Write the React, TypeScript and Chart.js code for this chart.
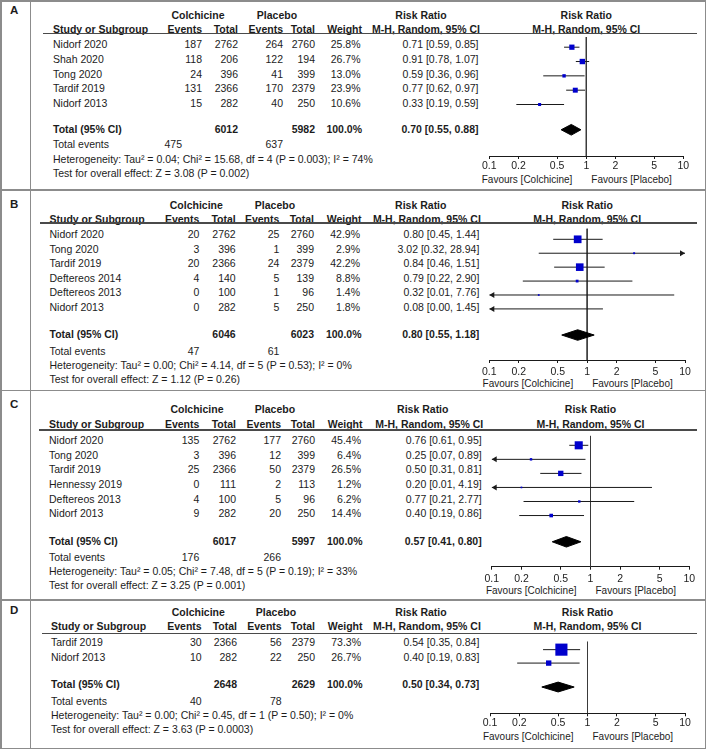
import React, { useEffect, useRef } from 'react';
import { Chart, registerables } from 'chart.js';
Chart.register(...registerables);

const FONT = '"Liberation Sans", Arial, Helvetica, sans-serif';
const TEXT = '#1c1c1c';
const LINE = '#1a1a1a';
const BLUE = '#0000cc';
const BORDER = '#8c8c8c';
const W = 708;
const H = 751;

const TICK_VALUES = [0.1, 0.2, 0.5, 1, 2, 5, 10];
const TICK_LABELS = ['0.1', '0.2', '0.5', '1', '2', '5', '10'];
const X_MIN = 0.1;
const X_MAX = 10;

// ---------- Panel A ----------
const A_STUDIES = ['Nidorf 2020', 'Shah 2020', 'Tong 2020', 'Tardif 2019', 'Nidorf 2013'];
const A_COL_EVENTS = [187, 118, 24, 131, 15];
const A_COL_TOTAL = [2762, 206, 396, 2366, 282];
const A_PLA_EVENTS = [264, 122, 41, 170, 40];
const A_PLA_TOTAL = [2760, 194, 399, 2379, 250];
const A_WEIGHT = [25.8, 26.7, 13.0, 23.9, 10.6];
const A_RR = [0.71, 0.91, 0.59, 0.77, 0.33];
const A_LOW = [0.59, 0.78, 0.36, 0.62, 0.19];
const A_HIGH = [0.85, 1.07, 0.96, 0.97, 0.59];
const A_TOTALS = [6012, 5982];
const A_TOTAL_EVENTS = [475, 637];
const A_POOLED = [0.70, 0.55, 0.88];
const A_HET = 'Heterogeneity: Tau² = 0.04; Chi² = 15.68, df = 4 (P = 0.003); I² = 74%';
const A_TEST = 'Test for overall effect: Z = 3.08 (P = 0.002)';

// ---------- Panel B ----------
const B_STUDIES = ['Nidorf 2020', 'Tong 2020', 'Tardif 2019', 'Deftereos 2014', 'Deftereos 2013', 'Nidorf 2013'];
const B_COL_EVENTS = [20, 3, 20, 4, 0, 0];
const B_COL_TOTAL = [2762, 396, 2366, 140, 100, 282];
const B_PLA_EVENTS = [25, 1, 24, 5, 1, 5];
const B_PLA_TOTAL = [2760, 399, 2379, 139, 96, 250];
const B_WEIGHT = [42.9, 2.9, 42.2, 8.8, 1.4, 1.8];
const B_RR = [0.80, 3.02, 0.84, 0.79, 0.32, 0.08];
const B_LOW = [0.45, 0.32, 0.46, 0.22, 0.01, 0.00];
const B_HIGH = [1.44, 28.94, 1.51, 2.90, 7.76, 1.45];
const B_TOTALS = [6046, 6023];
const B_TOTAL_EVENTS = [47, 61];
const B_POOLED = [0.80, 0.55, 1.18];
const B_HET = 'Heterogeneity: Tau² = 0.00; Chi² = 4.14, df = 5 (P = 0.53); I² = 0%';
const B_TEST = 'Test for overall effect: Z = 1.12 (P = 0.26)';

// ---------- Panel C ----------
const C_STUDIES = ['Nidorf 2020', 'Tong 2020', 'Tardif 2019', 'Hennessy 2019', 'Deftereos 2013', 'Nidorf 2013'];
const C_COL_EVENTS = [135, 3, 25, 0, 4, 9];
const C_COL_TOTAL = [2762, 396, 2366, 111, 100, 282];
const C_PLA_EVENTS = [177, 12, 50, 2, 5, 20];
const C_PLA_TOTAL = [2760, 399, 2379, 113, 96, 250];
const C_WEIGHT = [45.4, 6.4, 26.5, 1.2, 6.2, 14.4];
const C_RR = [0.76, 0.25, 0.50, 0.20, 0.77, 0.40];
const C_LOW = [0.61, 0.07, 0.31, 0.01, 0.21, 0.19];
const C_HIGH = [0.95, 0.89, 0.81, 4.19, 2.77, 0.86];
const C_TOTALS = [6017, 5997];
const C_TOTAL_EVENTS = [176, 266];
const C_POOLED = [0.57, 0.41, 0.80];
const C_HET = 'Heterogeneity: Tau² = 0.05; Chi² = 7.48, df = 5 (P = 0.19); I² = 33%';
const C_TEST = 'Test for overall effect: Z = 3.25 (P = 0.001)';

// ---------- Panel D ----------
const D_STUDIES = ['Tardif 2019', 'Nidorf 2013'];
const D_COL_EVENTS = [30, 10];
const D_COL_TOTAL = [2366, 282];
const D_PLA_EVENTS = [56, 22];
const D_PLA_TOTAL = [2379, 250];
const D_WEIGHT = [73.3, 26.7];
const D_RR = [0.54, 0.40];
const D_LOW = [0.35, 0.19];
const D_HIGH = [0.84, 0.83];
const D_TOTALS = [2648, 2629];
const D_TOTAL_EVENTS = [40, 78];
const D_POOLED = [0.50, 0.34, 0.73];
const D_HET = 'Heterogeneity: Tau² = 0.00; Chi² = 0.45, df = 1 (P = 0.50); I² = 0%';
const D_TEST = 'Test for overall effect: Z = 3.63 (P = 0.0003)';

type PanelData = {
  letter: string;
  studies: string[]; colEv: number[]; colTot: number[]; plaEv: number[]; plaTot: number[];
  weight: number[]; rr: number[]; low: number[]; high: number[];
  totals: number[]; totalEvents: number[]; pooled: number[]; het: string; test: string;
};

const mk = (letter: string, studies: string[], colEv: number[], colTot: number[], plaEv: number[], plaTot: number[],
  weight: number[], rr: number[], low: number[], high: number[], totals: number[], totalEvents: number[],
  pooled: number[], het: string, test: string): PanelData =>
  ({ letter, studies, colEv, colTot, plaEv, plaTot, weight, rr, low, high, totals, totalEvents, pooled, het, test });

const PANELS: PanelData[] = [
  mk('A', A_STUDIES, A_COL_EVENTS, A_COL_TOTAL, A_PLA_EVENTS, A_PLA_TOTAL, A_WEIGHT, A_RR, A_LOW, A_HIGH, A_TOTALS, A_TOTAL_EVENTS, A_POOLED, A_HET, A_TEST),
  mk('B', B_STUDIES, B_COL_EVENTS, B_COL_TOTAL, B_PLA_EVENTS, B_PLA_TOTAL, B_WEIGHT, B_RR, B_LOW, B_HIGH, B_TOTALS, B_TOTAL_EVENTS, B_POOLED, B_HET, B_TEST),
  mk('C', C_STUDIES, C_COL_EVENTS, C_COL_TOTAL, C_PLA_EVENTS, C_PLA_TOTAL, C_WEIGHT, C_RR, C_LOW, C_HIGH, C_TOTALS, C_TOTAL_EVENTS, C_POOLED, C_HET, C_TEST),
  mk('D', D_STUDIES, D_COL_EVENTS, D_COL_TOTAL, D_PLA_EVENTS, D_PLA_TOTAL, D_WEIGHT, D_RR, D_LOW, D_HIGH, D_TOTALS, D_TOTAL_EVENTS, D_POOLED, D_HET, D_TEST),
];

// ---------- Layout (pixel positions, page coordinates) ----------
type Lay = {
  label: number; colch: number; head: number; underline: number; lineStart: number;
  row0: number; step: number; total: number; totEv: number; het: number; test: number;
  axis: number; tickGap: number; fav: number; name: number; ev1: number; tot1: number; ev2: number; tot2: number;
  w: number; rr: number; rrHead: number; colchC: number; placC: number; x01: number; x10: number; totEv1: number;
};

const LAYOUTS: Lay[] = [
  { label: 10, colch: 15, head: 29, underline: 33.5, lineStart: 43, row0: 44, step: 14.75, total: 129, totEv: 144, het: 158.7, test: 173,
    axis: 156, tickGap: 9.7, fav: 180, name: 53, ev1: 202, tot1: 238, ev2: 283, tot2: 315, w: 360.5, rr: 478.5, rrHead: 421,
    colchC: 198, placC: 277, x01: 489.3, x10: 683.3, totEv1: 182 },
  { label: 204, colch: 205, head: 219, underline: 223, lineStart: 40, row0: 234.3, step: 14.5, total: 334, totEv: 350.7, het: 364.7, test: 379,
    axis: 360, tickGap: 11.7, fav: 384, name: 49.5, ev1: 199.3, tot1: 235.7, ev2: 279.3, tot2: 314, w: 360, rr: 479.3, rrHead: 420.8,
    colchC: 196.3, placC: 275, x01: 489.3, x10: 685, totEv1: 199.3 },
  { label: 404, colch: 409.3, head: 423.7, underline: 430, lineStart: 39.3, row0: 440, step: 14.66, total: 540.7, totEv: 556.7, het: 571, test: 585,
    axis: 566.7, tickGap: 12.6, fav: 591, name: 49, ev1: 199.3, tot1: 236, ev2: 281, tot2: 315, w: 361, rr: 481.7, rrHead: 422.8,
    colchC: 197, placC: 275, x01: 491.7, x10: 689.3, totEv1: 199.3 },
  { label: 610, colch: 611.7, head: 626.3, underline: 633.3, lineStart: 41.7, row0: 642.3, step: 15, total: 684, totEv: 700.7, het: 715, test: 729.3,
    axis: 713.3, tickGap: 9.5, fav: 736.7, name: 51, ev1: 201.7, tot1: 237, ev2: 281.7, tot2: 315, w: 361, rr: 479.3, rrHead: 421,
    colchC: 198.3, placC: 276, x01: 490, x10: 685, totEv1: 201.7 },
];

const PANEL_LINES = [1, 190, 390.5, 600, 748.5];
const FS = 10.5;

function T({ x, y, a = 'l', b = false, s = FS, children }: any) {
  const st: any = {
    position: 'absolute', top: y - 8, height: 16, lineHeight: '16px', fontSize: s,
    fontWeight: b ? 700 : 400, whiteSpace: 'nowrap', color: TEXT,
  };
  if (a === 'l') st.left = x;
  else if (a === 'r') st.right = W - x;
  else { st.left = x - 150; st.width = 300; st.textAlign = 'center'; }
  return <div style={st}>{children}</div>;
}

const fmtRR = (r: number, l: number, h: number) => `${r.toFixed(2)} [${l.toFixed(2)}, ${h.toFixed(2)}]`;

const AXIS_H = 24;

function Forest({ p, L }: { p: PanelData; L: Lay }) {
  const ref = useRef<HTMLCanvasElement>(null);
  const left = Math.floor(L.x01 - 48);
  const width = Math.ceil(L.x10 + 18 - left);
  const top = Math.floor(L.underline);
  const height = Math.ceil(L.axis - top + AXIS_H);

  useEffect(() => {
    const c = ref.current!;
    const padL = L.x01 - left;
    const padR = width - (L.x10 - left);
    const padT = L.underline - top;
    const padB = height - AXIS_H - (L.axis - top);
    const idx = (py: number) => (py - L.row0) / L.step;
    const yTop = idx(L.underline), yBot = idx(L.axis), yTot = idx(L.total);
    const rows = p.studies.map((_, i) => i);
    const visible = rows.filter(i => p.rr[i] >= X_MIN && p.rr[i] <= X_MAX);
    const half = 5.5 / L.step;

    const datasets: any[] = [];
    datasets.push({
      type: 'scatter',
      data: visible.map(i => ({ x: p.rr[i], y: i })),
      pointStyle: 'rect',
      pointRadius: visible.map(i => (1.5 + 0.145 * p.weight[i]) / 2 / Math.SQRT1_2),
      pointBackgroundColor: BLUE,
      pointBorderColor: BLUE,
      pointBorderWidth: 0,
      clip: false,
    });
    const [pr, pl, ph] = p.pooled;
    datasets.push({
      type: 'line',
      data: [
        { x: pl, y: yTot }, { x: pr, y: yTot - half }, { x: ph, y: yTot }, { x: pr, y: yTot + half }, { x: pl, y: yTot },
      ],
      borderColor: '#000', backgroundColor: '#000', borderWidth: 1, pointRadius: 0, fill: 'shape', tension: 0,
    });
    rows.forEach(i => {
      datasets.push({
        type: 'line',
        data: [{ x: Math.max(p.low[i], X_MIN), y: i }, { x: Math.min(p.high[i], X_MAX), y: i }],
        borderColor: LINE, borderWidth: 1, pointRadius: 0, fill: false,
      });
    });
    datasets.push({
      type: 'line',
      data: [{ x: 1, y: yTop }, { x: 1, y: yBot }],
      borderColor: '#3a3a3a', borderWidth: 1, pointRadius: 0, fill: false,
    });

    const arrows: { v: number; y: number; dir: number }[] = [];
    rows.forEach(i => {
      if (p.low[i] < X_MIN) arrows.push({ v: X_MIN, y: i, dir: -1 });
      if (p.high[i] > X_MAX) arrows.push({ v: X_MAX, y: i, dir: 1 });
    });
    const arrowPlugin = {
      id: 'ciArrows',
      afterDatasetsDraw(chart: any) {
        const { ctx } = chart;
        const xs = chart.scales.x, ys = chart.scales.y;
        ctx.save();
        ctx.fillStyle = LINE;
        arrows.forEach(a => {
          const px = xs.getPixelForValue(a.v), py = ys.getPixelForValue(a.y);
          ctx.beginPath();
          ctx.moveTo(px, py);
          ctx.lineTo(px - a.dir * 5, py - 3);
          ctx.lineTo(px - a.dir * 5, py + 3);
          ctx.closePath();
          ctx.fill();
        });
        ctx.restore();
      },
    };

    const chart = new Chart(c, {
      type: 'scatter',
      data: { datasets },
      plugins: [arrowPlugin],
      options: {
        responsive: false,
        maintainAspectRatio: false,
        animation: false,
        devicePixelRatio: 1,
        events: [],
        layout: { padding: { left: padL, right: padR, top: padT, bottom: padB } },
        plugins: { legend: { display: false }, tooltip: { enabled: false } },
        scales: {
          x: {
            type: 'logarithmic', min: X_MIN, max: X_MAX, position: 'bottom',
            afterBuildTicks: (s: any) => { s.ticks = TICK_VALUES.map(v => ({ value: v })); },
            afterFit: (s: any) => { s.height = AXIS_H; },
            ticks: {
              autoSkip: false, maxRotation: 0, minRotation: 0, padding: L.tickGap - 3 - 6.3,
              color: TEXT, font: { family: FONT, size: FS },
              callback: (_v: any, i: number) => TICK_LABELS[i],
            },
            grid: { display: true, drawOnChartArea: false, drawTicks: true, tickLength: 3, color: LINE, tickColor: LINE },
            border: { display: true, color: LINE, width: 1 },
          },
          y: { type: 'linear', min: yTop, max: yBot, reverse: true, display: false },
        },
      } as any,
    });
    return () => chart.destroy();
  }, []);

  return (
    <canvas ref={ref} width={width} height={height}
      style={{ position: 'absolute', left, top, width, height }} />
  );
}

function Panel({ p, L }: { p: PanelData; L: Lay }) {
  const x1 = (L.x01 + L.x10) / 2;
  const n = p.studies.length;
  return (
    <>
      <T x={10} y={L.label} b s={11.5}>{p.letter}</T>
      <T x={L.colchC} y={L.colch} a="c" b>Colchicine</T>
      <T x={L.placC} y={L.colch} a="c" b>Placebo</T>
      <T x={L.rrHead} y={L.colch} a="c" b>Risk Ratio</T>
      <T x={x1} y={L.colch} a="c" b>Risk Ratio</T>
      <T x={L.name} y={L.head} b>Study or Subgroup</T>
      <T x={L.ev1} y={L.head} a="r" b>Events</T>
      <T x={L.tot1} y={L.head} a="r" b>Total</T>
      <T x={L.ev2} y={L.head} a="r" b>Events</T>
      <T x={L.tot2} y={L.head} a="r" b>Total</T>
      <T x={L.w + 1.5} y={L.head} a="r" b>Weight</T>
      <T x={L.rr + 1.5} y={L.head} a="r" b>M-H, Random, 95% CI</T>
      <T x={x1} y={L.head} a="c" b>M-H, Random, 95% CI</T>
      <div style={{ position: 'absolute', left: L.lineStart, top: L.underline - 0.75, width: 697 - L.lineStart, height: 1.5, background: '#4a4a4a' }} />
      {p.studies.map((s, i) => {
        const y = L.row0 + i * L.step;
        return (
          <React.Fragment key={i}>
            <T x={L.name} y={y}>{s}</T>
            <T x={L.ev1} y={y} a="r">{p.colEv[i]}</T>
            <T x={L.tot1} y={y} a="r">{p.colTot[i]}</T>
            <T x={L.ev2} y={y} a="r">{p.plaEv[i]}</T>
            <T x={L.tot2} y={y} a="r">{p.plaTot[i]}</T>
            <T x={L.w} y={y} a="r">{p.weight[i].toFixed(1)}%</T>
            <T x={L.rr} y={y} a="r">{fmtRR(p.rr[i], p.low[i], p.high[i])}</T>
          </React.Fragment>
        );
      })}
      <T x={L.name} y={L.total} b>Total (95% CI)</T>
      <T x={L.tot1} y={L.total} a="r" b>{p.totals[0]}</T>
      <T x={L.tot2} y={L.total} a="r" b>{p.totals[1]}</T>
      <T x={L.w + 1.5} y={L.total} a="r" b>100.0%</T>
      <T x={L.rr} y={L.total} a="r" b>{fmtRR(p.pooled[0], p.pooled[1], p.pooled[2])}</T>
      <T x={L.name} y={L.totEv}>Total events</T>
      <T x={L.totEv1} y={L.totEv} a="r">{p.totalEvents[0]}</T>
      <T x={L.ev2} y={L.totEv} a="r">{p.totalEvents[1]}</T>
      <T x={L.name} y={L.het}>{p.het}</T>
      <T x={L.name} y={L.test}>{p.test}</T>
      <T x={x1 - 14} y={L.fav} a="r" s={10}>Favours [Colchicine]</T>
      <T x={x1 + 5} y={L.fav} s={10}>Favours [Placebo]</T>
      <Forest p={p} L={L} />
    </>
  );
}

export default function App() {
  return (
    <div style={{ position: 'absolute', left: 0, top: 0, width: W, height: H, background: '#fff', fontFamily: FONT, overflow: 'hidden' }}>
      {PANEL_LINES.map((y, i) => (
        <div key={'h' + i} style={{ position: 'absolute', left: 0, top: y - 0.75, width: 706, height: 1.5, background: BORDER }} />
      ))}
      <div style={{ position: 'absolute', left: 0, top: 0.25, width: 1.5, height: 748.5, background: BORDER }} />
      <div style={{ position: 'absolute', left: 29.5, top: 0.25, width: 1.5, height: 748.5, background: BORDER }} />
      <div style={{ position: 'absolute', left: 704.5, top: 0.25, width: 1.5, height: 748.5, background: BORDER }} />
      {PANELS.map((p, i) => <Panel key={p.letter} p={p} L={LAYOUTS[i]} />)}
    </div>
  );
}
